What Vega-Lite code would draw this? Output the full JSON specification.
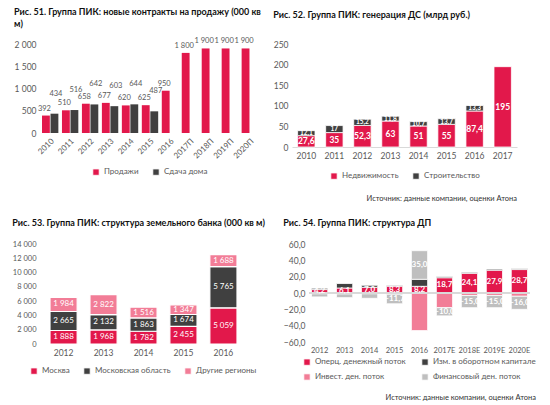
{
  "$schema": "https://vega.github.io/schema/vega-lite/v6.json",
  "padding": {"left": 12, "top": 8, "right": 6, "bottom": 0},
  "background": "white",
  "config": {
    "font": "Lato",
    "locale": {"number": {"decimal": ",", "thousands": " ", "grouping": [3], "currency": ["", ""]}},
    "view": {"stroke": null},
    "title": {"fontSize": 9, "fontWeight": "bold", "color": "#111111", "anchor": "start", "offset": 8},
    "axis": {"labelFont": "Lato", "labelFontSize": 8.5, "labelColor": "#595959", "ticks": false, "grid": false, "title": null, "domainColor": "#D9D9D9", "labelPadding": 4},
    "axisY": {"domain": false},
    "legend": {"orient": "bottom", "direction": "horizontal", "title": null, "symbolType": "square", "symbolSize": 40, "labelFontSize": 8, "labelColor": "#595959", "labelLimit": 200, "symbolStrokeWidth": 0, "columnPadding": 12, "offset": 12, "layout": {"bottom": {"anchor": "middle"}}},
    "bar": {"stroke": "white", "strokeWidth": 0.8}
  },
  "spacing": 16,
  "vconcat": [
    {
      "spacing": 12,
      "title": {"text": "Источник: данные компании, оценки Атона", "orient": "bottom", "anchor": "end", "fontSize": 7.5, "fontWeight": "normal", "color": "#333333", "offset": 14},
      "hconcat": [
        {
          "title": {"text": ["Рис. 51. Группа ПИК: новые контракты на продажу (000 кв", "м)"], "lineHeight": 12},
          "width": 220,
          "height": 89,
          "data": {"values": [
            {"year": "2010", "series": "Продажи", "value": 392},
            {"year": "2010", "series": "Сдача дома", "value": 434},
            {"year": "2011", "series": "Продажи", "value": 510},
            {"year": "2011", "series": "Сдача дома", "value": 516},
            {"year": "2012", "series": "Продажи", "value": 658},
            {"year": "2012", "series": "Сдача дома", "value": 642},
            {"year": "2013", "series": "Продажи", "value": 677},
            {"year": "2013", "series": "Сдача дома", "value": 603},
            {"year": "2014", "series": "Продажи", "value": 620},
            {"year": "2014", "series": "Сдача дома", "value": 644},
            {"year": "2015", "series": "Продажи", "value": 625},
            {"year": "2015", "series": "Сдача дома", "value": 487},
            {"year": "2016", "series": "Продажи", "value": 950},
            {"year": "2017П", "series": "Продажи", "value": 1800},
            {"year": "2018П", "series": "Продажи", "value": 1900},
            {"year": "2019П", "series": "Продажи", "value": 1900},
            {"year": "2020П", "series": "Продажи", "value": 1900}
          ]},
          "encoding": {
            "x": {"field": "year", "type": "nominal", "sort": null, "scale": {"paddingInner": 0.18, "paddingOuter": 0.1}, "axis": {"labelAngle": -45, "domain": false, "labelFontSize": 8}},
            "xOffset": {"field": "series", "type": "nominal", "sort": ["Продажи", "Сдача дома"], "scale": {"domain": ["Продажи", "Сдача дома"], "paddingInner": 0.08}},
            "y": {"field": "value", "type": "quantitative", "scale": {"domain": [0, 2000]}, "axis": {"values": [0, 500, 1000, 1500, 2000], "format": ",d"}}
          },
          "layer": [
            {
              "mark": {"type": "bar", "strokeWidth": 0},
              "encoding": {
                "color": {"field": "series", "type": "nominal", "sort": ["Продажи", "Сдача дома"], "scale": {"domain": ["Продажи", "Сдача дома"], "range": ["#E2184B", "#404040"]}, "legend": {"offset": 8}}
              }
            },
            {
              "transform": [{"filter": "datum.series == 'Продажи'"}],
              "mark": {"type": "text", "baseline": "bottom", "dy": -3, "dx": -1.5, "fontSize": 7.5, "color": "#595959"},
              "encoding": {"text": {"field": "value", "type": "quantitative", "format": ",d"}}
            },
            {
              "transform": [{"filter": "datum.series == 'Сдача дома'"}],
              "mark": {"type": "text", "baseline": "bottom", "dy": -16, "dx": 1.5, "fontSize": 7.5, "color": "#595959"},
              "encoding": {"text": {"field": "value", "type": "quantitative", "format": ",d"}}
            }
          ]
        },
        {
          "title": {"text": ["Рис. 52. Группа ПИК: генерация ДС (млрд руб.)", " "], "lineHeight": 12},
          "width": 225,
          "height": 103,
          "data": {"values": [
            {"year": "2010", "series": "Недвижимость", "value": 27.6},
            {"year": "2010", "series": "Строительство", "value": 12.1},
            {"year": "2011", "series": "Недвижимость", "value": 35},
            {"year": "2011", "series": "Строительство", "value": 17},
            {"year": "2012", "series": "Недвижимость", "value": 52.3},
            {"year": "2012", "series": "Строительство", "value": 15.2},
            {"year": "2013", "series": "Недвижимость", "value": 63},
            {"year": "2013", "series": "Строительство", "value": 11.8},
            {"year": "2014", "series": "Недвижимость", "value": 51},
            {"year": "2014", "series": "Строительство", "value": 10.7},
            {"year": "2015", "series": "Недвижимость", "value": 55},
            {"year": "2015", "series": "Строительство", "value": 13.7},
            {"year": "2016", "series": "Недвижимость", "value": 87.4},
            {"year": "2016", "series": "Строительство", "value": 13.3},
            {"year": "2017", "series": "Недвижимость", "value": 195}
          ]},
          "transform": [{"calculate": "indexof(['Недвижимость', 'Строительство'], datum.series)", "as": "ord"}],
          "encoding": {
            "x": {"field": "year", "type": "nominal", "sort": null, "scale": {"paddingInner": 0.38, "paddingOuter": 0.2}, "axis": {"labelAngle": 0}},
            "y": {"field": "value", "type": "quantitative", "stack": "zero", "scale": {"domain": [0, 250]}, "axis": {"values": [0, 50, 100, 150, 200, 250]}},
            "color": {"field": "series", "type": "nominal", "sort": ["Недвижимость", "Строительство"], "scale": {"domain": ["Недвижимость", "Строительство"], "range": ["#E2184B", "#404040"]}},
            "order": {"field": "ord", "type": "quantitative"}
          },
          "layer": [
            {"mark": {"type": "bar"}},
            {
              "mark": {"type": "text", "fontSize": 8.5, "fontWeight": "bold", "baseline": "middle"},
              "encoding": {
                "y": {"field": "value", "type": "quantitative", "stack": "zero", "bandPosition": 0.5},
                "fill": {"value": "white"},
                "size": {"condition": {"test": "datum.series == 'Строительство'", "value": 6.5}, "value": 8.5},
                "text": {"field": "value", "type": "quantitative", "format": ".1~f"}
              }
            }
          ]
        }
      ],
      "resolve": {"scale": {"color": "independent", "x": "independent", "y": "independent"}, "legend": {"color": "independent"}}
    },
    {
      "spacing": 18,
      "title": {"text": "Источник: данные компании, оценки Атона", "orient": "bottom", "anchor": "end", "fontSize": 7.5, "fontWeight": "normal", "color": "#333333", "offset": 12},
      "hconcat": [
        {
          "title": {"text": "Рис. 53. Группа ПИК: структура земельного банка (000 кв м)", "offset": 12},
          "width": 207,
          "height": 100,
          "data": {"values": [
            {"year": "2012", "series": "Москва", "value": 1888},
            {"year": "2012", "series": "Московская область", "value": 2665},
            {"year": "2012", "series": "Другие регионы", "value": 1984},
            {"year": "2013", "series": "Москва", "value": 1968},
            {"year": "2013", "series": "Московская область", "value": 2132},
            {"year": "2013", "series": "Другие регионы", "value": 2822},
            {"year": "2014", "series": "Москва", "value": 1782},
            {"year": "2014", "series": "Московская область", "value": 1863},
            {"year": "2014", "series": "Другие регионы", "value": 1516},
            {"year": "2015", "series": "Москва", "value": 2455},
            {"year": "2015", "series": "Московская область", "value": 1674},
            {"year": "2015", "series": "Другие регионы", "value": 1347},
            {"year": "2016", "series": "Москва", "value": 5059},
            {"year": "2016", "series": "Московская область", "value": 5765},
            {"year": "2016", "series": "Другие регионы", "value": 1688}
          ]},
          "transform": [{"calculate": "indexof(['Москва', 'Московская область', 'Другие регионы'], datum.series)", "as": "ord"}],
          "encoding": {
            "x": {"field": "year", "type": "nominal", "sort": null, "scale": {"paddingInner": 0.32, "paddingOuter": 0.25}, "axis": {"labelAngle": 0, "domain": false}},
            "y": {"field": "value", "type": "quantitative", "stack": "zero", "scale": {"domain": [0, 14000]}, "axis": {"values": [0, 2000, 4000, 6000, 8000, 10000, 12000, 14000], "format": ",d", "labelFontSize": 7.5}},
            "color": {"field": "series", "type": "nominal", "sort": ["Москва", "Московская область", "Другие регионы"], "scale": {"domain": ["Москва", "Московская область", "Другие регионы"], "range": ["#E2184B", "#404040", "#F27D97"]}, "legend": {"offset": 10}},
            "order": {"field": "ord", "type": "quantitative"}
          },
          "layer": [
            {"mark": {"type": "bar", "strokeWidth": 1.2}},
            {
              "mark": {"type": "text", "fontSize": 8, "baseline": "middle"},
              "encoding": {
                "y": {"field": "value", "type": "quantitative", "stack": "zero", "bandPosition": 0.5},
                "fill": {"value": "white"},
                "text": {"field": "value", "type": "quantitative", "format": ",d"}
              }
            }
          ]
        },
        {
          "title": {"text": "Рис. 54. Группа ПИК: структура ДП", "offset": 12},
          "width": 221,
          "height": 98,
          "data": {"values": [
            {"year": "2012", "series": "Оперц. денежный поток", "value": 4.2},
            {"year": "2012", "series": "Изм. в оборотном капитале", "value": 1.6},
            {"year": "2012", "series": "Инвест. ден. поток", "value": -1.0},
            {"year": "2012", "series": "Финансовый ден. поток", "value": -3.8},
            {"year": "2013", "series": "Оперц. денежный поток", "value": 6.1},
            {"year": "2013", "series": "Изм. в оборотном капитале", "value": 5.5},
            {"year": "2013", "series": "Инвест. ден. поток", "value": -1.2},
            {"year": "2013", "series": "Финансовый ден. поток", "value": -4.5},
            {"year": "2014", "series": "Оперц. денежный поток", "value": 7.0},
            {"year": "2014", "series": "Изм. в оборотном капитале", "value": 2.4},
            {"year": "2014", "series": "Инвест. ден. поток", "value": -1.0},
            {"year": "2014", "series": "Финансовый ден. поток", "value": -5.5},
            {"year": "2015", "series": "Оперц. денежный поток", "value": 8.3},
            {"year": "2015", "series": "Изм. в оборотном капитале", "value": 1.0},
            {"year": "2015", "series": "Инвест. ден. поток", "value": -1.5},
            {"year": "2015", "series": "Финансовый ден. поток", "value": -11.7},
            {"year": "2016", "series": "Оперц. денежный поток", "value": 8.2},
            {"year": "2016", "series": "Изм. в оборотном капитале", "value": 8.6},
            {"year": "2016", "series": "Инвест. ден. поток", "value": -46.0},
            {"year": "2016", "series": "Финансовый ден. поток", "value": 35.0},
            {"year": "2017E", "series": "Оперц. денежный поток", "value": 18.7},
            {"year": "2017E", "series": "Изм. в оборотном капитале", "value": 1.3},
            {"year": "2017E", "series": "Инвест. ден. поток", "value": -18.0},
            {"year": "2017E", "series": "Финансовый ден. поток", "value": -10.0},
            {"year": "2018E", "series": "Оперц. денежный поток", "value": 24.1},
            {"year": "2018E", "series": "Изм. в оборотном капитале", "value": 1.2},
            {"year": "2018E", "series": "Инвест. ден. поток", "value": -3.0},
            {"year": "2018E", "series": "Финансовый ден. поток", "value": -15.0},
            {"year": "2019E", "series": "Оперц. денежный поток", "value": 27.9},
            {"year": "2019E", "series": "Изм. в оборотном капитале", "value": 1.3},
            {"year": "2019E", "series": "Инвест. ден. поток", "value": -3.0},
            {"year": "2019E", "series": "Финансовый ден. поток", "value": -15.0},
            {"year": "2020E", "series": "Оперц. денежный поток", "value": 28.7},
            {"year": "2020E", "series": "Изм. в оборотном капитале", "value": 1.3},
            {"year": "2020E", "series": "Инвест. ден. поток", "value": -4.0},
            {"year": "2020E", "series": "Финансовый ден. поток", "value": -16.0}
          ]},
          "transform": [{"calculate": "indexof(['Оперц. денежный поток', 'Изм. в оборотном капитале', 'Инвест. ден. поток', 'Финансовый ден. поток'], datum.series)", "as": "ord"}],
          "layer": [
            {
              "mark": {"type": "bar"},
              "encoding": {
                "x": {"field": "year", "type": "nominal", "sort": null, "scale": {"paddingInner": 0.35, "paddingOuter": 0.1}, "axis": {"labelAngle": 0, "domain": false, "labelFontSize": 7.5}},
                "y": {"field": "value", "type": "quantitative", "stack": "zero", "scale": {"domain": [-60, 60]}, "axis": {"values": [-60, -40, -20, 0, 20, 40, 60], "format": ".1f"}},
                "color": {"field": "series", "type": "nominal", "sort": ["Оперц. денежный поток", "Изм. в оборотном капитале", "Инвест. ден. поток", "Финансовый ден. поток"], "scale": {"domain": ["Оперц. денежный поток", "Изм. в оборотном капитале", "Инвест. ден. поток", "Финансовый ден. поток"], "range": ["#E2184B", "#404040", "#F27D97", "#BFBFBF"]}, "legend": {"columns": 2, "rowPadding": 5, "columnPadding": 14, "offset": 4}},
                "order": {"field": "ord", "type": "quantitative"}
              }
            },
            {
              "mark": {"type": "rule", "color": "#D9D9D9", "strokeWidth": 1},
              "encoding": {"y": {"datum": 0, "type": "quantitative", "axis": {"values": [-60, -40, -20, 0, 20, 40, 60], "format": ".1f"}}}
            },
            {
              "mark": {"type": "text", "fontSize": 8, "fontWeight": "bold", "baseline": "middle"},
              "encoding": {
                "x": {"field": "year", "type": "nominal", "sort": null},
                "y": {"field": "value", "type": "quantitative", "stack": "zero", "bandPosition": 0.5, "axis": {"values": [-60, -40, -20, 0, 20, 40, 60], "format": ".1f"}},
                "color": {"field": "series", "type": "nominal"},
                "order": {"field": "ord", "type": "quantitative"},
                "fill": {"value": "white"},
                "text": {"condition": {"test": "datum.series == 'Оперц. денежный поток' || (datum.series == 'Финансовый ден. поток' && abs(datum.value) >= 10)", "field": "value", "type": "quantitative", "format": ".1f"}, "value": ""}
              }
            }
          ]
        }
      ],
      "resolve": {"scale": {"color": "independent", "x": "independent", "y": "independent"}, "legend": {"color": "independent"}}
    }
  ],
  "resolve": {"scale": {"color": "independent", "x": "independent", "y": "independent"}, "legend": {"color": "independent"}}
}
